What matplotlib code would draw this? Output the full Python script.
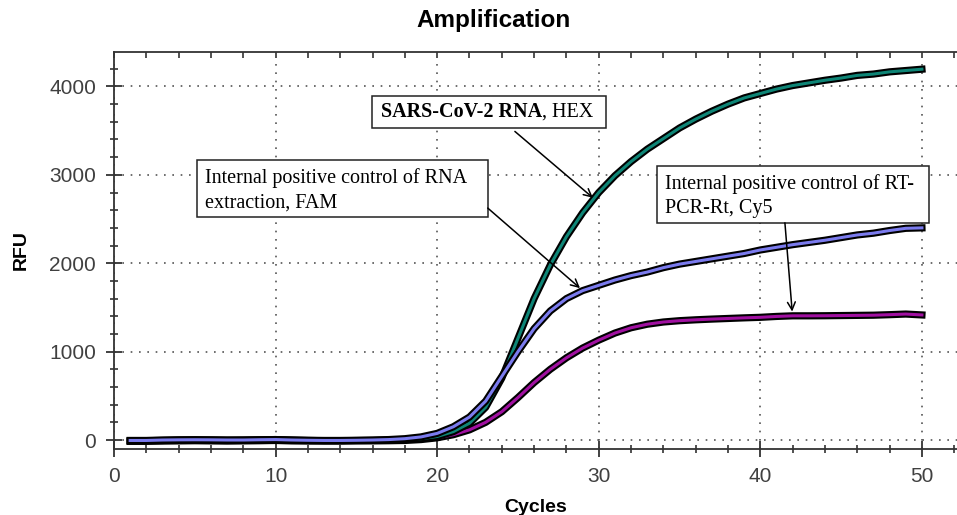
import numpy as np
import matplotlib
matplotlib.use("Agg")
import matplotlib.pyplot as plt
import matplotlib.patheffects as pe
from matplotlib.ticker import MultipleLocator
from matplotlib.patches import Rectangle

# data
cycles = np.arange(1, 51)
hex_rfu = [-10, -8, -5, 0, 2, 0, -2, 0, 2, 5,
           0, -5, -8, -8, -6, -4, 0, 5, 15, 40,
           95, 190, 370, 700, 1150, 1600, 1980, 2300, 2570, 2800,
           2990, 3150, 3290, 3410, 3530, 3630, 3720, 3800, 3870, 3920,
           3970, 4010, 4040, 4070, 4095, 4125, 4140, 4165, 4180, 4195]
fam_rfu = [-5, -5, 0, 2, 3, 2, 0, 0, 3, 5,
           0, -3, -5, -5, -3, 0, 5, 15, 35, 75,
           150, 260, 440, 720, 1000, 1260, 1460, 1600, 1690, 1750,
           1810, 1860, 1900, 1950, 1990, 2020, 2050, 2080, 2110, 2150,
           2180, 2210, 2235, 2260, 2290, 2320, 2340, 2370, 2395, 2400]
cy5_rfu = [-15, -15, -12, -10, -8, -10, -12, -10, -8, -5,
           -10, -12, -12, -12, -10, -10, -8, -5, 5, 25,
           60, 115, 200, 320, 480, 650, 800, 930, 1040, 1130,
           1210, 1270, 1310, 1335, 1350, 1360, 1368, 1375, 1382, 1388,
           1398, 1405, 1405, 1406, 1408, 1410, 1412, 1418, 1425, 1415]

W, H = 957, 515
SANS = "Liberation Sans"
SERIF = "Liberation Serif"

fig = plt.figure(figsize=(W / 100.0, H / 100.0), dpi=100)
ax = fig.add_axes([114.0 / W, 1 - 448.5 / H, 1 - 114.0 / W, (448.5 - 51.7) / H])

def px(x, y):
    # image pixel -> figure fraction
    return x / float(W), 1 - y / float(H)

for vals, col in [(cy5_rfu, "#a010a0"), (hex_rfu, "#0e8576"), (fam_rfu, "#7b7bee")]:
    ax.plot(cycles, vals, color=col, lw=2.2, zorder=3,
            path_effects=[pe.Stroke(linewidth=5.2, foreground="black"), pe.Normal()])

ax.set_xlim(0, 52.17)
ax.set_ylim(-96, 4393)
ax.xaxis.set_major_locator(MultipleLocator(10))
ax.xaxis.set_minor_locator(MultipleLocator(2))
ax.yaxis.set_major_locator(MultipleLocator(1000))
ax.yaxis.set_minor_locator(MultipleLocator(200))
ax.grid(True, which="major", linestyle=(0, (1, 4)), color="#555555", lw=1.2)
ax.spines["right"].set_visible(False)
for s in ["left", "bottom", "top"]:
    ax.spines[s].set_color("#333333")
    ax.spines[s].set_linewidth(1.3)
ax.tick_params(which="major", direction="inout", length=12, width=1.3, color="#333333",
               labelsize=15, labelcolor="#404040", pad=7)
ax.tick_params(which="minor", direction="inout", length=6, width=1.2, color="#333333")
for lab in ax.get_xticklabels() + ax.get_yticklabels():
    lab.set_family(SANS)

top = ax.secondary_xaxis("top")
top.xaxis.set_major_locator(MultipleLocator(10))
top.xaxis.set_minor_locator(MultipleLocator(2))
top.tick_params(which="both", direction="in", length=4, width=1.2, color="#333333",
                labeltop=False)
top.spines["top"].set_visible(False)

ax.set_xlabel("Cycles", family=SANS, fontsize=14, fontweight="bold", labelpad=10)
ax.set_ylabel("RFU", family=SANS, fontsize=14, fontweight="bold", labelpad=14)
fig.text(494.0 / W, 1 - 20.0 / H, "Amplification", family=SANS, fontsize=17.5,
         fontweight="bold", ha="center", va="center")

# annotation boxes (image pixel layout)
def box(x0, y0, x1, y1):
    fx0, fy1 = px(x0, y0)
    fx1, fy0 = px(x1, y1)
    ax.add_patch(Rectangle((fx0, fy0), fx1 - fx0, fy1 - fy0, transform=fig.transFigure,
                           facecolor="white", edgecolor="#222222", lw=1.1, zorder=5,
                           clip_on=False))

def label(x, y, s, **kw):
    return ax.text(*px(x, y), s, transform=fig.transFigure, family=SERIF, fontsize=14.5,
                   va="center", ha="left", zorder=6, clip_on=False, **kw)

box(372, 96, 606, 128)
t1 = label(381, 112, "SARS-CoV-2 RNA", fontweight="bold")
ax.annotate(", HEX", xy=(1, 0), xycoords=t1, va="bottom", ha="left",
            family=SERIF, fontsize=14.5, zorder=6, annotation_clip=False)

box(197, 160, 488, 217)
label(205, 190, "Internal positive control of RNA\nextraction, FAM", linespacing=1.4)

box(657, 166, 929, 223)
label(665, 196, "Internal positive control of RT-\nPCR-Rt, Cy5", linespacing=1.4)

# arrows in data coordinates (cycles, RFU)
arrows = [((24.81, 3491), (29.64, 2740)),
          ((23.13, 2624), (28.84, 1718)),
          ((41.52, 2457), (41.97, 1453))]
for start, tip in arrows:
    ax.annotate("", xy=tip, xytext=start,
                arrowprops=dict(arrowstyle="->", color="black", lw=1.1,
                                mutation_scale=14, shrinkA=0, shrinkB=0),
                zorder=7)

fig.savefig("out.png", dpi=100)
